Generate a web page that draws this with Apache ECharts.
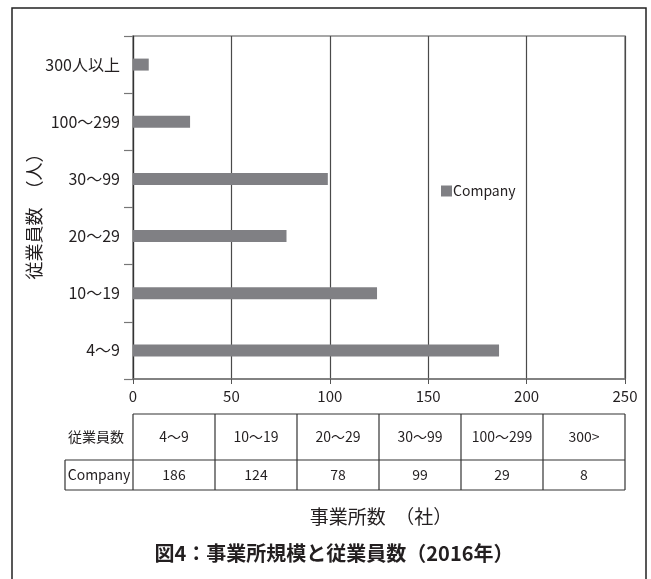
<!DOCTYPE html>
<html>
<head>
<meta charset="utf-8">
<script src="https://cdn.jsdelivr.net/npm/echarts@6/dist/echarts.min.js"></script>
<style>
html,body{margin:0;padding:0;background:#fff;}
#chart{width:651px;height:579px;}
</style>
</head>
<body>
<div id="chart"></div>
<script>
const categories = ['4～9', '10～19', '20～29', '30～99', '100～299', '300人以上'];
const companyCounts = [186, 124, 78, 99, 29, 8];
const xMin = 0, xMax = 250, xInterval = 50;
const tableHeaders = ['4～9', '10～19', '20～29', '30～99', '100～299', '300>'];
const tableRowLabels = ['従業員数', 'Company'];
const seriesName = 'Company';
const yAxisName = '従業員数　（人）';
const xAxisName = '事業所数　（社）';
const titleText = '図4：事業所規模と従業員数（2016年）';

const FONT = '"Noto Sans CJK JP", sans-serif';
const CJK = '"Noto Sans CJK JP", sans-serif';
const TXT = '#231f20';

const chart = echarts.init(document.getElementById('chart'), null, {renderer: 'canvas'});
const option = {
  animation: false,
  backgroundColor: '#fff',
  grid: {left: 133, right: 26, top: 36, bottom: 200, show: true, borderColor: '#8a8a8a', borderWidth: 1.5},
  legend: {
    data: [seriesName], left: 441, top: 184, padding: 0,
    icon: 'rect', itemWidth: 11, itemHeight: 11,
    textStyle: {fontFamily: FONT, fontSize: 14, color: TXT, padding: [0, 0, 0, -4]}
  },
  xAxis: {
    type: 'value', min: xMin, max: xMax, interval: xInterval,
    axisLine: {show: true, lineStyle: {color: '#777', width: 1.5}},
    axisTick: {show: true, length: 5, lineStyle: {color: '#555'}},
    axisLabel: {fontFamily: FONT, fontSize: 15, color: TXT, margin: 10},
    splitLine: {show: true, lineStyle: {color: '#4a4a4a', width: 1.2}}
  },
  yAxis: {
    type: 'category', data: categories,
    axisLine: {show: true, lineStyle: {color: '#333', width: 1.2}},
    axisTick: {show: true, length: 9, lineStyle: {color: '#777', width: 1.2}},
    axisLabel: {fontFamily: FONT, fontSize: 16, color: TXT, margin: 13},
    splitLine: {show: false}
  },
  series: [{
    name: seriesName, type: 'bar', data: companyCounts, barWidth: 12,
    itemStyle: {color: '#808084'}
  }]
};
chart.setOption(option);

// table aligned to the x axis
const nCols = tableHeaders.length;
const colX = [];
for (let i = 0; i <= nCols; i++) {
  colX.push(chart.convertToPixel({xAxisIndex: 0}, xMin + (xMax - xMin) * i / nCols));
}
const tTop = 414, tMid = 460, tBot = 490, labelLeft = 65;
const g = [];
const line = (x1, y1, x2, y2) => ({type: 'line', shape: {x1, y1, x2, y2}, style: {stroke: '#333', lineWidth: 1.2}, silent: true});
// outer frame
g.push({type: 'rect', shape: {x: 12, y: 8, width: 634, height: 620}, style: {fill: null, stroke: '#222', lineWidth: 1.5}, silent: true, z: -1});
// table lines
g.push(line(colX[0], tTop, colX[nCols], tTop));
g.push(line(labelLeft, tMid, colX[nCols], tMid));
g.push(line(labelLeft, tBot, colX[nCols], tBot));
g.push(line(labelLeft, tMid, labelLeft, tBot));
for (let i = 0; i <= nCols; i++) g.push(line(colX[i], tTop, colX[i], tBot));
const txt = (x, y, s, size, font, weight) => ({
  type: 'text', x, y, silent: true,
  style: {text: s, fill: TXT, font: (weight || 'normal') + ' ' + size + 'px ' + font, textAlign: 'center', textVerticalAlign: 'middle'}
});
g.push(txt(96, (tTop + tMid) / 2, tableRowLabels[0], 14, CJK));
g.push(txt((labelLeft + colX[0]) / 2, (tMid + tBot) / 2, tableRowLabels[1], 14, FONT));
for (let i = 0; i < nCols; i++) {
  const cx = (colX[i] + colX[i + 1]) / 2;
  g.push(txt(cx, (tTop + tMid) / 2, tableHeaders[i], 14, FONT));
  g.push(txt(cx, (tMid + tBot) / 2, String(companyCounts[i]), 14, FONT));
}
const yName = txt(34, 212, yAxisName, 18, CJK);
yName.rotation = Math.PI / 2;
g.push(yName);
g.push(txt(381, 517, xAxisName, 19, CJK));
g.push(txt(334, 553, titleText, 20, CJK, 'bold'));
chart.setOption({graphic: g});
</script>
</body>
</html>
